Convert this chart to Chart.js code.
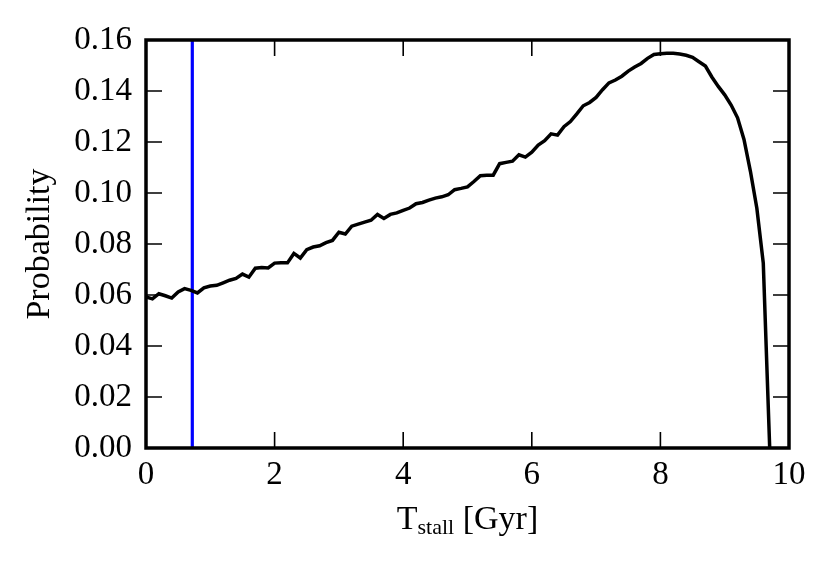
<!DOCTYPE html>
<html>
<head>
<meta charset="utf-8">
<script src="https://cdn.jsdelivr.net/npm/chart.js@4/dist/chart.umd.min.js"></script>
<style>
  html, body { margin: 0; padding: 0; background: #fff; }
  #wrap { width: 831px; height: 565px; }
</style>
</head>
<body>
<div id="wrap"><canvas id="probChart" width="831" height="565"></canvas></div>
<script>
// --- Daten ---
const tStall = [
  0.0, 0.1, 0.2, 0.3, 0.4, 0.5, 0.6, 0.7, 0.8, 0.9,
  1.0, 1.1, 1.2, 1.3, 1.4, 1.5, 1.6, 1.7, 1.8, 1.9,
  2.0, 2.1, 2.2, 2.3, 2.4, 2.5, 2.6, 2.7, 2.8, 2.9,
  3.0, 3.1, 3.2, 3.3, 3.4, 3.5, 3.6, 3.7, 3.8, 3.9,
  4.0, 4.1, 4.2, 4.3, 4.4, 4.5, 4.6, 4.7, 4.8, 4.9,
  5.0, 5.1, 5.2, 5.3, 5.4, 5.5, 5.6, 5.7, 5.8, 5.9,
  6.0, 6.1, 6.2, 6.3, 6.4, 6.5, 6.6, 6.7, 6.8, 6.9,
  7.0, 7.1, 7.2, 7.3, 7.4, 7.5, 7.6, 7.7, 7.8, 7.9,
  8.0, 8.1, 8.2, 8.3, 8.4, 8.5, 8.6, 8.7, 8.8, 8.9,
  9.0, 9.1, 9.2, 9.3, 9.4, 9.5, 9.6, 9.7
];
const probability = [
  0.0592, 0.0585, 0.0605, 0.0597, 0.0588, 0.0612, 0.0625, 0.0618, 0.0608, 0.0628,
  0.0635, 0.0638, 0.0648, 0.0658, 0.0665, 0.0682, 0.0670, 0.0705, 0.0708, 0.0706,
  0.0725, 0.0726, 0.0726, 0.0763, 0.0745, 0.0778, 0.0788, 0.0793, 0.0805, 0.0814,
  0.0846, 0.0839, 0.0870, 0.0878, 0.0886, 0.0893, 0.0916, 0.0900, 0.0916, 0.0922,
  0.0932, 0.0941, 0.0958, 0.0963, 0.0972, 0.0980, 0.0985, 0.0993, 0.1013, 0.1018,
  0.1024, 0.1045, 0.1068, 0.1070, 0.1070, 0.1115, 0.1120, 0.1125, 0.1150, 0.1141,
  0.1160, 0.1188, 0.1205, 0.1232, 0.1227, 0.1260, 0.1280, 0.1310, 0.1342, 0.1355,
  0.1375, 0.1405, 0.1432, 0.1443, 0.1458, 0.1478, 0.1494, 0.1508, 0.1528, 0.1543,
  0.1546, 0.1548, 0.1548, 0.1545, 0.1540, 0.1532, 0.1515, 0.1498, 0.1455, 0.1418,
  0.1385, 0.1345, 0.1295, 0.1210, 0.1085, 0.0940, 0.0725, 0.0000
];
const markerX = 0.72;          // blaue Linie
const xTicks = [0, 2, 4, 6, 8, 10];
const yTicks = [0.00, 0.02, 0.04, 0.06, 0.08, 0.10, 0.12, 0.14, 0.16];

const FONT = "'Liberation Serif', 'DejaVu Serif', serif";

// Rahmen, nach innen zeigende Ticks und Achsentitel
const framePlugin = {
  id: 'frame',
  afterDraw(chart) {
    const { ctx, chartArea: a, scales } = chart;
    const xs = scales.x, ys = scales.y;
    const tl = 16;
    ctx.save();
    ctx.strokeStyle = '#000';
    ctx.lineWidth = 1.6;
    ctx.beginPath();
    xTicks.forEach(v => {
      const px = xs.getPixelForValue(v);
      ctx.moveTo(px, a.bottom); ctx.lineTo(px, a.bottom - tl);
      ctx.moveTo(px, a.top); ctx.lineTo(px, a.top + tl);
    });
    yTicks.forEach(v => {
      const py = ys.getPixelForValue(v);
      ctx.moveTo(a.left, py); ctx.lineTo(a.left + tl, py);
      ctx.moveTo(a.right, py); ctx.lineTo(a.right - tl, py);
    });
    ctx.stroke();

    ctx.lineWidth = 3.5;
    ctx.strokeRect(a.left, a.top, a.right - a.left, a.bottom - a.top);

    // x-Titel mit Index
    ctx.fillStyle = '#000';
    ctx.textBaseline = 'alphabetic';
    ctx.textAlign = 'left';
    const big = '34px ' + FONT, small = '22px ' + FONT;
    ctx.font = big; const wT = ctx.measureText('T').width;
    ctx.font = small; const wS = ctx.measureText('stall').width;
    ctx.font = big; const wG = ctx.measureText(' [Gyr]').width;
    let x0 = (a.left + a.right) / 2 - (wT + wS + wG) / 2;
    const base = 529;
    ctx.font = big; ctx.fillText('T', x0, base); x0 += wT;
    ctx.font = small; ctx.fillText('stall', x0, base + 5); x0 += wS;
    ctx.font = big; ctx.fillText(' [Gyr]', x0, base);

    // y-Titel
    ctx.translate(40, (a.top + a.bottom) / 2);
    ctx.rotate(-Math.PI / 2);
    ctx.textAlign = 'center';
    ctx.textBaseline = 'middle';
    ctx.font = big;
    ctx.fillText('Probability', 0, 0);
    ctx.restore();
  }
};

function initChart() {
  const ctx = document.getElementById('probChart').getContext('2d');
  new Chart(ctx, {
    type: 'line',
    data: {
      datasets: [
        {
          data: tStall.map((t, i) => ({ x: t, y: probability[i] })),
          borderColor: '#000', borderWidth: 3.5, pointRadius: 0, tension: 0, fill: false
        },
        {
          data: [{ x: markerX, y: 0 }, { x: markerX, y: 0.16 }],
          borderColor: '#0000ff', borderWidth: 3.2, pointRadius: 0, fill: false
        }
      ]
    },
    plugins: [framePlugin],
    options: {
      responsive: false,
      animation: false,
      layout: { padding: { left: 0, right: 42, top: 40, bottom: 0 } },
      plugins: { legend: { display: false }, tooltip: { enabled: false } },
      scales: {
        x: {
          type: 'linear', min: 0, max: 10,
          afterBuildTicks: s => { s.ticks = xTicks.map(v => ({ value: v })); },
          afterFit: s => { s.height = 117; },
          grid: { display: false, drawTicks: false },
          border: { display: false },
          ticks: { color: '#000', padding: 8, maxRotation: 0, font: { family: FONT, size: 33 }, callback: v => String(v) }
        },
        y: {
          type: 'linear', min: 0, max: 0.16,
          afterBuildTicks: s => { s.ticks = yTicks.map(v => ({ value: v })); },
          afterFit: s => { s.width = 146; },
          grid: { display: false, drawTicks: false },
          border: { display: false },
          ticks: { color: '#000', padding: 14, font: { family: FONT, size: 33 }, callback: v => Number(v).toFixed(2) }
        }
      }
    }
  });
}

window.onload = () => { initChart(); };
</script>
</body>
</html>
